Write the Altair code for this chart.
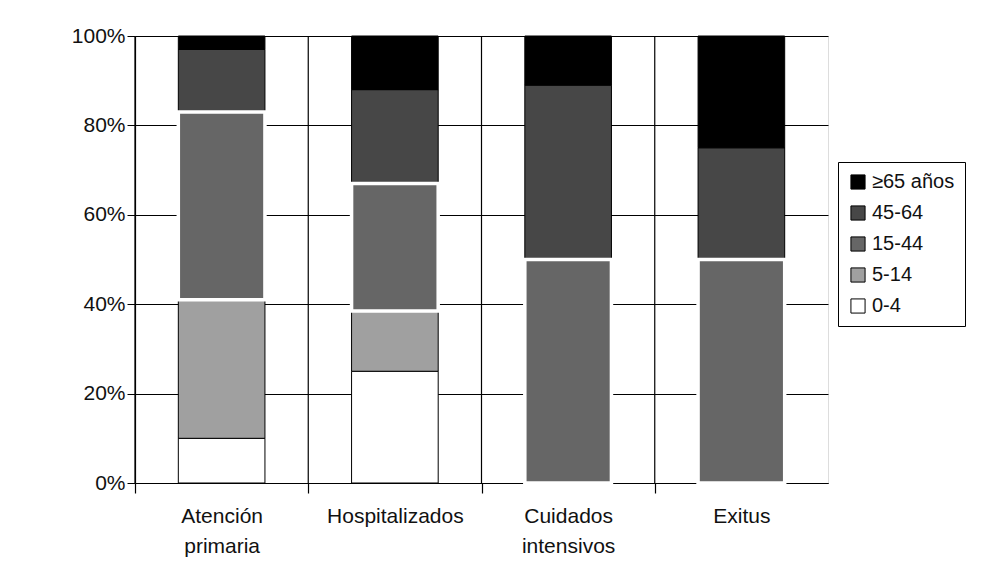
import pandas as pd
import altair as alt

categories = ["Atención primaria", "Hospitalizados", "Cuidados intensivos", "Exitus"]
groups = ["0-4", " 5-14", "15-44", "45-64", "≥65 años"]
values = {
    "0-4":      [10, 25, 0, 0],
    " 5-14":    [31, 13.5, 0, 0],
    "15-44":    [42, 28.5, 50, 50],
    "45-64":    [14, 21, 39, 25],
    "≥65 años": [3, 12, 11, 25],
}
colors = ["#ffffff", "#a0a0a0", "#666666", "#474747", "#000000"]

rows = []
for i, cat in enumerate(categories):
    base = 0
    for g in groups:
        v = values[g][i]
        rows.append({"cat": cat, "grupo": g, "lo": base, "hi": base + v, "val": v})
        base += v
df = pd.DataFrame(rows)
df = df[df.val > 0]
cats = pd.DataFrame({"cat": categories})

W = 693
step = W / 4
font = "Liberation Sans"
xscale = alt.Scale(domain=categories, paddingInner=0.5, paddingOuter=0.25)
xenc = alt.X("cat:N", sort=categories, title=None, scale=xscale,
             axis=alt.Axis(labelAngle=0, labelFontSize=21, labelColor="#111", labelFont=font,
                           labelExpr="split(datum.label, ' ')", labelPadding=12,
                           labelLineHeight=30, grid=False, tickOffset=-step / 2,
                           labelOffset=step / 2,
                           tickColor="#000", tickSize=10, tickWidth=1.2,
                           domainColor="#000", domainWidth=1.2))
yenc = alt.Y("lo:Q", scale=alt.Scale(domain=[0, 100]), title=None,
             axis=alt.Axis(values=[0, 20, 40, 60, 80, 100], labelExpr="datum.value + '%'",
                           labelFontSize=21, labelColor="#111", labelFont=font, grid=True,
                           gridColor="#000", gridWidth=1.2, tickColor="#000",
                           tickSize=8, domainColor="#000", domainWidth=1.2))
color = alt.Color("grupo:N", scale=alt.Scale(domain=groups[::-1], range=colors[::-1]),
                  legend=alt.Legend(title=None, orient="none", legendX=703, legendY=126,
                                    labelFontSize=20, labelColor="#111", symbolType="square",
                                    symbolSize=200, symbolStrokeColor="#000",
                                    symbolStrokeWidth=1, rowPadding=11, padding=10,
                                    strokeColor="#000", labelFont=font))

vrules = alt.Chart(cats).mark_rule(color="#000", strokeWidth=1.2, xOffset=-step / 2).encode(
    x=xenc)
bars = alt.Chart(df).mark_bar(stroke="#000", strokeWidth=1).encode(
    x=xenc, y=yenc, y2="hi:Q", color=color)
inner = alt.Chart(df[df.grupo == "15-44"]).mark_bar(
    stroke="#fff", strokeWidth=3.5, fill="#666666").encode(
    x=xenc, y=yenc, y2="hi:Q")

chart = (vrules + bars + inner).properties(
    width=W, height=447, autosize=alt.AutoSizeParams(type="none"),
    padding={"left": 127, "top": 28, "right": 152, "bottom": 80}
).configure_view(stroke="#000", strokeWidth=1.2).configure(font=font)

chart.save("out.html", embed_options={"renderer": "svg", "actions": False})
